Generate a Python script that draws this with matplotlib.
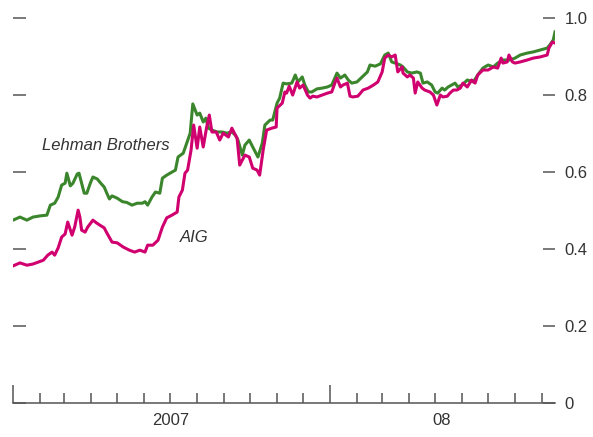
import pandas as pd
import matplotlib
matplotlib.use("Agg")
import matplotlib.pyplot as plt
import matplotlib.dates as mdates
from matplotlib import font_manager

# days since 2007-01-01 and value
lehman_days = [0, 8, 16, 23, 31, 39, 43, 48, 52, 56, 60, 62, 66, 69, 74, 76, 79, 82, 85, 89,
               92, 97, 101, 105, 108, 111, 114, 120, 126, 131, 137, 143, 149, 152, 155, 160,
               164, 169, 172, 177, 183, 187, 190, 196, 200, 204, 207, 212, 215, 219, 222, 225,
               229, 235, 241, 246, 252, 256, 259, 264, 267, 272, 276, 282, 287, 290, 296, 299,
               304, 307, 311, 315, 321, 325, 328, 333, 336, 340, 344, 350, 356, 362, 367, 371,
               373, 377, 382, 386, 390, 396, 402, 408, 411, 417, 423, 428, 432, 436, 440, 446,
               449, 454, 459, 465, 469, 472, 477, 482, 486, 489, 494, 497, 501, 505, 509, 512,
               517, 523, 530, 535, 541, 547, 553, 558, 564, 572, 578, 584, 592, 599, 607, 615,
               618, 622, 624]
lehman_vals = [0.475, 0.483, 0.475, 0.483, 0.486, 0.488, 0.514, 0.519, 0.535, 0.566, 0.571, 0.597,
               0.564, 0.571, 0.595, 0.597, 0.571, 0.545, 0.545, 0.571, 0.587, 0.582, 0.571, 0.561,
               0.545, 0.530, 0.538, 0.532, 0.523, 0.521, 0.514, 0.519, 0.519, 0.523, 0.514, 0.535,
               0.548, 0.545, 0.584, 0.592, 0.600, 0.605, 0.639, 0.649, 0.675, 0.701, 0.777, 0.748,
               0.753, 0.730, 0.740, 0.714, 0.709, 0.704, 0.704, 0.701, 0.704, 0.696, 0.683, 0.644,
               0.670, 0.683, 0.665, 0.639, 0.675, 0.722, 0.735, 0.735, 0.779, 0.792, 0.831, 0.829,
               0.831, 0.852, 0.834, 0.847, 0.826, 0.808, 0.808, 0.816, 0.818, 0.821, 0.826, 0.847,
               0.857, 0.844, 0.852, 0.839, 0.831, 0.834, 0.847, 0.860, 0.878, 0.875, 0.881, 0.904,
               0.909, 0.886, 0.883, 0.878, 0.873, 0.860, 0.857, 0.860, 0.857, 0.831, 0.834, 0.826,
               0.808, 0.805, 0.818, 0.813, 0.821, 0.826, 0.831, 0.821, 0.826, 0.839, 0.834, 0.852,
               0.870, 0.878, 0.873, 0.883, 0.891, 0.891, 0.896, 0.904, 0.909, 0.912, 0.917, 0.922,
               0.930, 0.943, 0.964]

aig_days = [0, 8, 16, 23, 29, 35, 40, 45, 48, 52, 56, 60, 63, 68, 71, 75, 77, 79, 83, 86,
            92, 96, 100, 105, 108, 114, 120, 127, 134, 140, 146, 152, 155, 161, 167, 172,
            177, 183, 189, 191, 195, 198, 201, 205, 208, 212, 215, 219, 223, 226, 229, 234,
            238, 242, 248, 252, 256, 258, 261, 267, 272, 276, 281, 284, 288, 292, 298, 303,
            304, 310, 313, 315, 318, 322, 327, 330, 334, 339, 342, 345, 350, 356, 362, 367,
            371, 373, 377, 380, 385, 388, 391, 397, 403, 409, 415, 420, 425, 428, 432, 436,
            440, 443, 448, 449, 454, 457, 461, 463, 466, 471, 474, 480, 484, 488, 492, 495,
            500, 503, 507, 511, 515, 518, 523, 528, 532, 535, 541, 547, 553, 558, 562, 564,
            569, 571, 575, 578, 584, 592, 599, 607, 615, 617, 621, 624]
aig_vals = [0.356, 0.364, 0.358, 0.361, 0.366, 0.371, 0.384, 0.392, 0.384, 0.403, 0.431, 0.439,
            0.470, 0.436, 0.457, 0.501, 0.483, 0.449, 0.444, 0.457, 0.475, 0.468, 0.462, 0.455,
            0.442, 0.418, 0.416, 0.405, 0.397, 0.392, 0.397, 0.392, 0.410, 0.410, 0.423, 0.457,
            0.481, 0.488, 0.496, 0.535, 0.553, 0.597, 0.605, 0.657, 0.722, 0.662, 0.717, 0.665,
            0.717, 0.748, 0.704, 0.704, 0.683, 0.701, 0.691, 0.714, 0.696, 0.688, 0.618, 0.644,
            0.639, 0.610, 0.605, 0.592, 0.657, 0.709, 0.714, 0.717, 0.766, 0.779, 0.808, 0.805,
            0.823, 0.800, 0.834, 0.818, 0.826, 0.800, 0.792, 0.797, 0.795, 0.800, 0.805, 0.808,
            0.834, 0.844, 0.821, 0.826, 0.831, 0.797, 0.795, 0.797, 0.813, 0.818, 0.826, 0.834,
            0.860, 0.896, 0.904, 0.899, 0.904, 0.860, 0.873, 0.857, 0.847, 0.852, 0.844, 0.805,
            0.834, 0.818, 0.813, 0.808, 0.800, 0.774, 0.800, 0.795, 0.797, 0.805, 0.813, 0.813,
            0.818, 0.831, 0.821, 0.839, 0.831, 0.852, 0.865, 0.865, 0.873, 0.870, 0.896, 0.883,
            0.886, 0.904, 0.886, 0.883, 0.886, 0.891, 0.896, 0.899, 0.904, 0.922, 0.938, 0.935]

y_ticks = [0, 0.2, 0.4, 0.6, 0.8, 1.0]
y_labels = ["0", "0.2", "0.4", "0.6", "0.8", "1.0"]

start = pd.Timestamp("2007-01-01")
end = pd.Timestamp("2008-09-16")
lehman_dates = start + pd.to_timedelta(lehman_days, unit="D")
aig_dates = start + pd.to_timedelta(aig_days, unit="D")

names = {f.name for f in font_manager.fontManager.ttflist}
font = "Liberation Sans Narrow" if "Liberation Sans Narrow" in names else "Liberation Sans"
plt.rcParams["font.family"] = [font, "DejaVu Sans"]

GREEN = "#3b862c"
MAGENTA = "#d0006f"
TEXT = "#333333"
AXC = "#555555"

fig = plt.figure(figsize=(5.93, 4.37), dpi=100)
ax = fig.add_axes([13 / 593, 34 / 437, 542 / 593, 396.5 / 437])

ax.plot(lehman_dates, lehman_vals, color=GREEN, lw=2.2, solid_joinstyle="round")
ax.plot(aig_dates, aig_vals, color=MAGENTA, lw=2.2, solid_joinstyle="round")

ax.set_xlim(start, end)
ax.set_ylim(0, 1.03)

for s in ["top", "left", "right"]:
    ax.spines[s].set_visible(False)
ax.spines["bottom"].set_color(AXC)
ax.spines["bottom"].set_linewidth(1.1)

# x axis: year ticks long, month ticks short
ax.xaxis.set_major_locator(mdates.YearLocator())
ax.xaxis.set_minor_locator(mdates.MonthLocator())
ax.xaxis.set_major_formatter(plt.NullFormatter())
ax.tick_params(axis="x", which="major", direction="in", length=13, width=1.1, color=AXC)
ax.tick_params(axis="x", which="minor", direction="in", length=7, width=1.1, color=AXC)

ax.text(pd.Timestamp("2007-07-02"), -0.043, "2007", transform=ax.get_xaxis_transform(),
        ha="center", va="center", fontsize=12, color=TEXT)
ax.text(pd.Timestamp("2008-05-09"), -0.043, "08", transform=ax.get_xaxis_transform(),
        ha="center", va="center", fontsize=12, color=TEXT)

# y axis: ticks both sides, labels on the right
ax.set_yticks(y_ticks)
ax.set_yticklabels(y_labels)
ax.tick_params(axis="y", direction="in", length=9, width=1.1, color=AXC, left=True, right=True,
               labelleft=False, labelright=True, pad=7, labelsize=12, labelcolor=TEXT)

ax.text(pd.Timestamp("2007-02-03"), 0.670, "Lehman Brothers", fontsize=12, style="italic",
        color=TEXT, ha="left", va="center")
ax.text(pd.Timestamp("2007-07-12"), 0.431, "AIG", fontsize=12, style="italic",
        color=TEXT, ha="left", va="center")

fig.savefig("out.png", dpi=100)
